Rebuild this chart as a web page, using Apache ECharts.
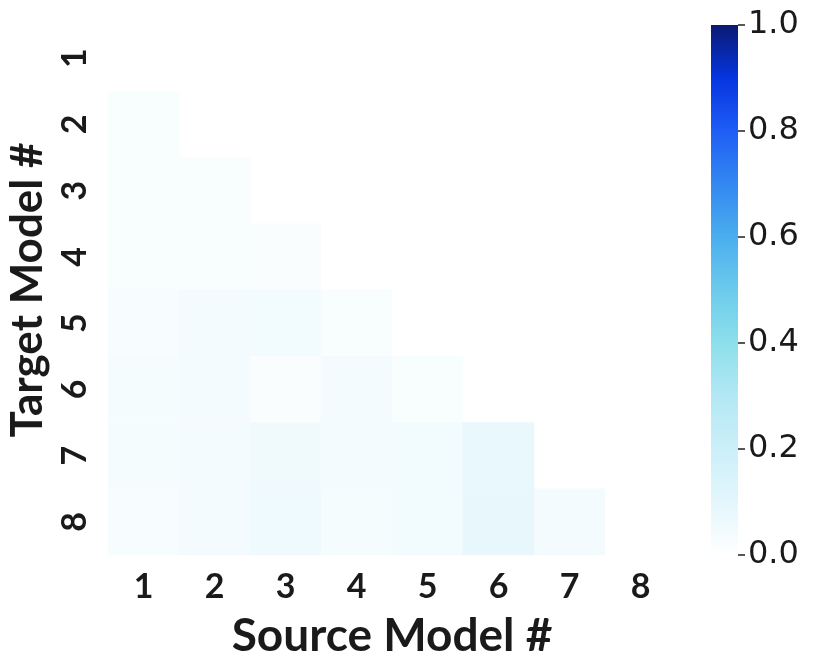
<!DOCTYPE html>
<html>
<head>
<meta charset="utf-8">
<script src="https://cdn.jsdelivr.net/npm/echarts@6/dist/echarts.min.js"></script>
<style>
  html, body { margin: 0; padding: 0; background: #fff; }
  #chart { width: 830px; height: 664px; }
</style>
</head>
<body>
<div id="chart"></div>
<script>
// model indices on both axes
const sourceModels = ['1', '2', '3', '4', '5', '6', '7', '8'];
const targetModels = ['1', '2', '3', '4', '5', '6', '7', '8'];

// lower triangle, one row per target model (source 1..target-1)
const row2 = [0.025];
const row3 = [0.025, 0.025];
const row4 = [0.025, 0.025, 0.022];
const row5 = [0.03, 0.04, 0.048, 0.025];
const row6 = [0.035, 0.042, 0.018, 0.04, 0.025];
const row7 = [0.035, 0.04, 0.055, 0.042, 0.048, 0.08];
const row8 = [0.03, 0.042, 0.06, 0.035, 0.048, 0.085, 0.042];
const rows = [[], row2, row3, row4, row5, row6, row7, row8];

const colorTicks = [0, 0.2, 0.4, 0.6, 0.8, 1.0];
const cmap = ['#ffffff', '#e3f6fc', '#cbeff9', '#b3e8f4', '#8ddfeb', '#6ccbec',
              '#4aaeee', '#3388f1', '#1f5ef6', '#0535e0', '#0b1a72'];

const cells = [];
rows.forEach((r, ti) => {
  r.forEach((v, si) => cells.push([si, ti, v]));
});

const chart = echarts.init(document.getElementById('chart'));

const tickFont = { fontFamily: 'Lato', fontSize: 34, fontWeight: 'bold', color: '#1a1a1a' };
const titleFont = { fontFamily: 'Lato', fontSize: 46, fontWeight: 'bold', color: '#1a1a1a' };

const option = {
  backgroundColor: '#fff',
  animation: false,
  grid: [
    { left: 108, top: 25, width: 568, height: 530, outerBoundsMode: 'none' },
    { left: 711, top: 25, width: 27, height: 530, outerBoundsMode: 'none' }
  ],
  xAxis: [
    {
      type: 'category', gridIndex: 0, data: sourceModels,
      axisLine: { show: false }, axisTick: { show: false }, splitLine: { show: false },
      axisLabel: Object.assign({ margin: 15 }, tickFont),
      name: 'Source Model #', nameLocation: 'middle', nameGap: 58,
      nameTextStyle: titleFont
    },
    {
      type: 'category', gridIndex: 1, data: ['c'], show: false
    }
  ],
  yAxis: [
    {
      type: 'category', gridIndex: 0, data: targetModels, inverse: true,
      axisLine: { show: false }, axisTick: { show: false }, splitLine: { show: false },
      axisLabel: Object.assign({ rotate: 90, margin: 16 }, tickFont),
      name: 'Target Model #', nameLocation: 'middle', nameGap: 58, nameRotate: 90,
      nameTextStyle: Object.assign({}, titleFont, { fontSize: 44 })
    },
    {
      type: 'value', gridIndex: 1, position: 'right', min: 0, max: 1, interval: 0.2,
      axisLine: { show: false }, splitLine: { show: false },
      axisTick: { show: true, length: 7, lineStyle: { color: '#222', width: 1.5 } },
      axisLabel: {
        margin: 10, fontFamily: 'DejaVu Sans', fontSize: 32, color: '#1a1a1a',
        formatter: v => v.toFixed(1)
      }
    }
  ],
  visualMap: {
    show: false, seriesIndex: 0, min: 0, max: 1, dimension: 2,
    inRange: { color: cmap }
  },
  series: [
    {
      type: 'heatmap', xAxisIndex: 0, yAxisIndex: 0, data: cells,
      itemStyle: { borderWidth: 0 }, emphasis: { disabled: true }
    },
    {
      type: 'bar', xAxisIndex: 1, yAxisIndex: 1, data: [colorTicks[colorTicks.length - 1]],
      barWidth: '100%', silent: true,
      itemStyle: {
        color: new echarts.graphic.LinearGradient(0, 1, 0, 0,
          cmap.map((c, i) => ({ offset: i / (cmap.length - 1), color: c })))
      }
    }
  ]
};

chart.setOption(option);
</script>
</body>
</html>
